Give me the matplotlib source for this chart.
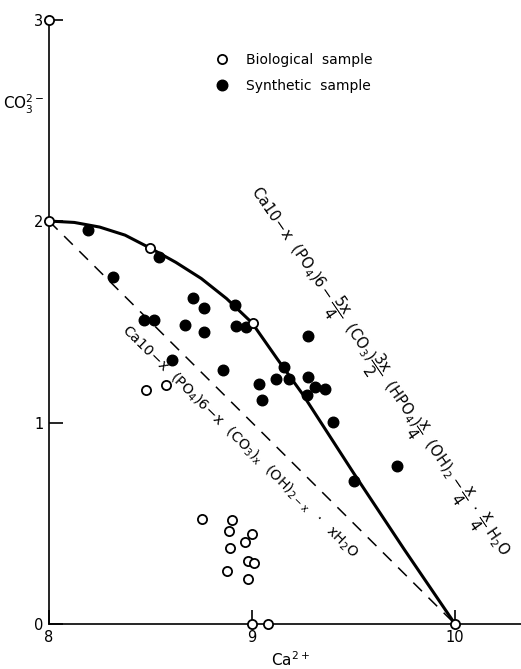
import matplotlib
matplotlib.use("Agg")
import matplotlib.pyplot as plt
from matplotlib.lines import Line2D

plt.rcParams['font.family'] = ['DejaVu Sans']
plt.rcParams['mathtext.fontset'] = 'dejavusans'
plt.rcParams['mathtext.default'] = 'regular'

# Synthetic apatites: Ca2+ content vs CO3 2- content
synthetic_ca = [8.19, 8.54, 8.317, 8.711, 8.764, 8.916, 8.466, 8.519, 8.671, 8.762,
                8.921, 8.970, 8.606, 8.856, 9.156, 9.118, 9.184, 9.036, 9.048, 9.278,
                9.276, 9.310, 9.360, 9.269, 9.401, 9.713, 9.502]
synthetic_co3 = [1.955, 1.82, 1.72, 1.617, 1.567, 1.582, 1.509, 1.509, 1.484, 1.451,
                 1.479, 1.474, 1.312, 1.262, 1.275, 1.217, 1.214, 1.189, 1.114, 1.428,
                 1.225, 1.178, 1.164, 1.139, 1.002, 0.786, 0.710]

# Biological apatites
biological_ca = [8.0, 8.0, 8.497, 9.006, 10.0, 9.0, 9.08, 8.478, 8.576, 8.755, 8.900,
                 8.888, 9.002, 8.966, 8.892, 8.98, 9.01, 8.878, 8.982]
biological_co3 = [3.0, 2.0, 1.864, 1.493, 0.0, 0.0, 0.0, 1.159, 1.186, 0.522, 0.514,
                  0.463, 0.446, 0.405, 0.375, 0.315, 0.305, 0.265, 0.222]

# Substitution model with HPO4 (solid curve)
curve_ca = [8.0, 8.125, 8.25, 8.375, 8.5, 8.625, 8.75, 8.875, 9.0, 9.125, 9.25,
            9.5, 9.75, 10.0]
curve_co3 = [2.0, 1.993, 1.97, 1.93, 1.865, 1.795, 1.715, 1.615, 1.495, 1.315, 1.14,
             0.75, 0.37, 0.0]

# Simple substitution model (dashed line)
dashed_ca = [8.0, 10.0]
dashed_co3 = [2.0, 0.0]

x_ticks = [8, 9, 10]
y_ticks = [0, 1, 2, 3]
x_ticklabels = ['8', '9', '10']
y_ticklabels = ['0', '1', '2', '3']

fig = plt.figure(figsize=(5.21, 6.69), dpi=100)
ax = fig.add_axes([0, 0, 1, 1])
ax.set_xlim(7.759, 10.325)
ax.set_ylim(-0.2233, 3.097)
ax.patch.set_visible(False)

for side in ('top', 'right'):
    ax.spines[side].set_visible(False)
ax.spines['left'].set_position(('data', 8))
ax.spines['bottom'].set_position(('data', 0))
ax.spines['left'].set_bounds(0, 3)
ax.spines['bottom'].set_bounds(8, 10.325)
for side in ('left', 'bottom'):
    ax.spines[side].set_linewidth(1.2)

ax.set_xticks(x_ticks)
ax.set_xticklabels(x_ticklabels)
ax.set_yticks(y_ticks)
ax.set_yticklabels(y_ticklabels)
ax.tick_params(direction='in', length=10, width=1.2, labelsize=10.5, pad=4)

ax.plot(curve_ca, curve_co3, color='black', lw=2.2, zorder=2)
ax.plot(dashed_ca, dashed_co3, color='black', lw=1.1, dashes=(8, 6), zorder=2)

ax.plot(synthetic_ca, synthetic_co3, 'o', ms=7.6, mfc='black', mec='black',
        ls='none', zorder=3)
ax.plot(biological_ca, biological_co3, 'o', ms=6.6, mfc='white', mec='black',
        mew=1.3, ls='none', zorder=4, clip_on=False)

handles = [
    Line2D([], [], marker='o', ls='none', ms=6.6, mfc='white', mec='black', mew=1.3),
    Line2D([], [], marker='o', ls='none', ms=7.6, mfc='black', mec='black'),
]
ax.legend(handles, ['Biological  sample', 'Synthetic  sample'], loc='upper left',
          bbox_to_anchor=(0.412, 0.921), frameon=False, fontsize=10,
          handlelength=1.0, handletextpad=1.25, labelspacing=0.87,
          borderpad=0, borderaxespad=0)

ax.text(7.877, 2.58, r'CO$_3^{2-}$', ha='center', va='center', fontsize=11)
ax.text(9.187, -0.179, r'Ca$^{2+}$', ha='center', va='center', fontsize=11)

ax.text(8.357, 1.456,
        r'Ca$10\!-\!x\ \ (PO_4)6\!-\!x\ \ (CO_3)_x\ \ (OH)_{2-x}\ \ \cdot\ \ xH_2O$',
        rotation=-44.5, rotation_mode='anchor', ha='left', va='baseline',
        fontsize=10.3)
ax.text(8.99, 2.149,
        r'Ca$10\!-\!x\ \ (PO_4)6-\dfrac{5x}{4}\ \ (CO_3)\dfrac{3x}{2}\ \ (HPO_4)\dfrac{x}{4}'
        r'\ \ (OH)_2-\dfrac{x}{4}\ \cdot\ \dfrac{x}{4}\ H_2O$',
        rotation=-55.5, rotation_mode='anchor', ha='left', va='baseline',
        fontsize=10.6)

fig.savefig('out.png', dpi=100)
